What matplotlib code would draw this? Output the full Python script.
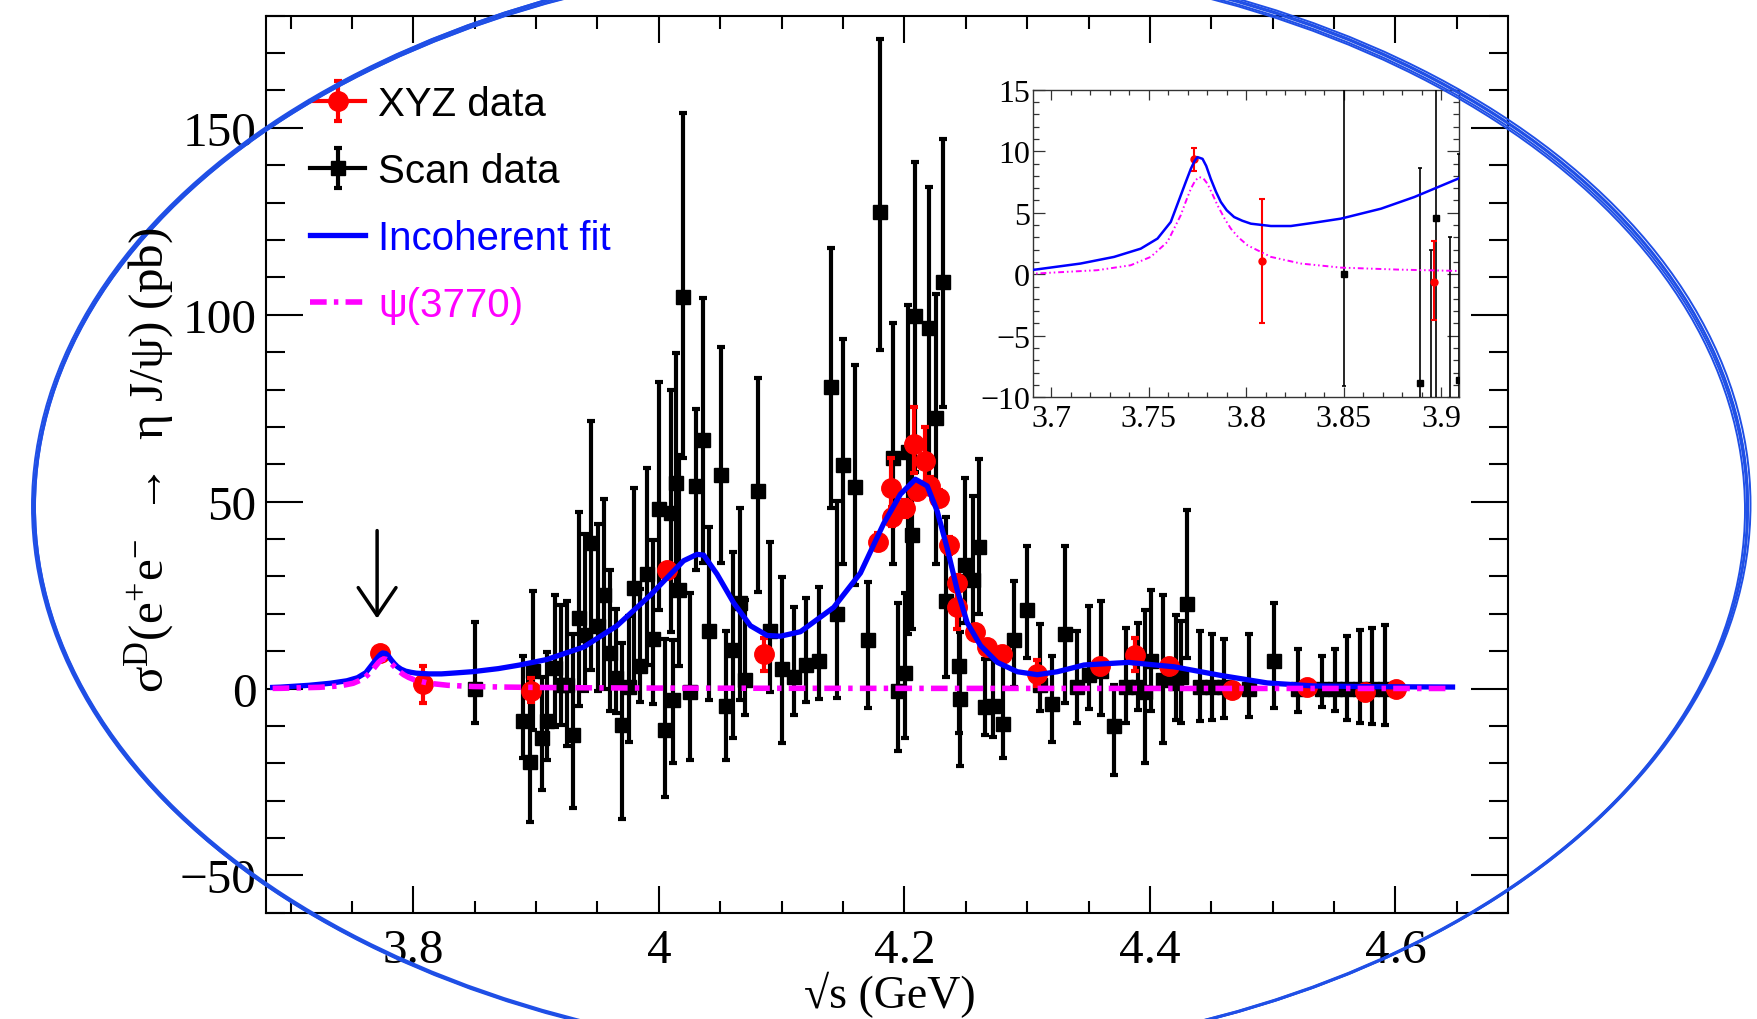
import numpy as np
import matplotlib
matplotlib.use("Agg")
import matplotlib.pyplot as plt
from matplotlib import ticker
from matplotlib.lines import Line2D
from matplotlib.patches import Ellipse

plt.rcParams['font.family'] = ['Liberation Serif', 'DejaVu Serif']
plt.rcParams['mathtext.fontset'] = 'custom'
plt.rcParams['mathtext.rm'] = 'Liberation Serif'
plt.rcParams['mathtext.it'] = 'Liberation Serif:italic'

# ---- XYZ data (red): energy, value, upper and lower end of error bar
xyz_x = [3.7730, 3.8080, 3.8962, 4.0066, 4.0857, 4.1783, 4.1887, 4.1900, 4.2001, 4.2082,
         4.2104, 4.2172, 4.2212, 4.2278, 4.2362, 4.2430, 4.2425, 4.2579, 4.2675, 4.2793,
         4.3083, 4.3590, 4.3878, 4.4159, 4.4667, 4.5278, 4.5754, 4.6003]
xyz_y = [9.4, 1.1, -0.6, 31.6, 9.2, 39.2, 53.6, 46.0, 48.2, 65.5,
         52.9, 61.0, 54.3, 50.9, 38.3, 28.3, 21.8, 15.0, 11.2, 9.2,
         3.9, 6.0, 9.1, 6.1, -0.3, 0.5, -1.0, -0.2]
xyz_hi = [10.3, 6.1, 2.7, 33.5, 13.5, 41.5, 61.8, 48.5, 50.5, 75.4,
          55.0, 70.0, 56.5, 53.0, 40.5, 30.5, 29.0, 17.0, 13.0, 11.0,
          7.6, 8.0, 13.6, 8.0, 1.5, 2.3, 1.0, 1.6]
xyz_lo = [8.4, -4.0, -3.7, 29.7, 4.8, 37.0, 45.5, 43.5, 46.0, 57.7,
          50.8, 53.0, 52.0, 48.8, 36.0, 26.0, 16.0, 13.0, 9.4, 7.4,
          0.7, 4.0, 4.6, 4.2, -2.0, -1.3, -3.0, -2.0]

# ---- Scan data (black)
scan_x = [3.8500, 3.8890, 3.8950, 3.8975, 3.9045, 3.9090, 3.9150, 3.9199, 3.9248, 3.9300,
          3.9352, 3.9401, 3.9450, 3.9502, 3.9550, 3.9602, 3.9652, 3.9699, 3.9754, 3.9800,
          3.9850, 3.9903, 3.9952, 4.0000, 4.0053, 4.0098, 4.0112, 4.0142, 4.0161, 4.0200,
          4.0254, 4.0304, 4.0356, 4.0406, 4.0504, 4.0550, 4.0603, 4.0657, 4.0705, 4.0806,
          4.0903, 4.1004, 4.1104, 4.1202, 4.1302, 4.1402, 4.1452, 4.1502, 4.1601, 4.1704,
          4.1802, 4.1905, 4.1950, 4.2005, 4.2033, 4.2063, 4.2090, 4.2199, 4.2254, 4.2312,
          4.2340, 4.2448, 4.2457, 4.2490, 4.2555, 4.2605, 4.2660, 4.2720, 4.2801, 4.2890,
          4.3002, 4.3108, 4.3204, 4.3305, 4.3409, 4.3506, 4.3603, 4.3707, 4.3802, 4.3900,
          4.3960, 4.4010, 4.4109, 4.4211, 4.4256, 4.4303, 4.4407, 4.4508, 4.4606, 4.4807,
          4.5008, 4.5205, 4.5405, 4.5508, 4.5609, 4.5714, 4.5811, 4.5913]
scan_y = [0.0, -8.8, -19.6, 4.6, -13.2, -8.6, 5.5, 0.9, 0.9, -12.4,
          18.8, 14.2, 39.0, 16.8, 25.0, 9.6, 2.9, -9.8, 0.4, 26.8,
          6.0, 30.6, 13.3, 48.1, -11.0, 47.0, -3.1, 55.0, 26.3, 104.8,
          -1.0, 54.2, 66.5, 15.3, 57.0, -4.6, 10.4, 23.0, 2.3, 52.9,
          15.5, 5.1, 3.0, 6.3, 7.5, 80.6, 20.0, 59.8, 53.8, 13.0,
          127.6, 61.6, -0.7, 4.2, 63.2, 41.2, 99.8, 96.4, 72.3, 108.8,
          23.3, 6.1, -2.9, 33.1, 29.1, 37.8, -5.0, -4.8, -9.4, 12.9,
          20.9, 1.0, -4.1, 14.7, 0.3, 3.7, 4.8, -10.0, 0.3, 0.3,
          -1.0, 7.4, 2.2, 1.5, 3.1, 22.7, 0.3, 0.3, 0.3, 0.0,
          7.4, 0.0, 0.0, 0.0, 0.0, 0.0, 0.0, 0.0]
scan_hi = [17.8, 8.6, 2.0, 26.0, 3.0, 9.8, 25.0, 22.4, 23.4, 14.7,
           47.2, 41.3, 71.7, 43.9, 50.7, 31.8, 21.2, 12.2, 19.5, 53.6,
           26.5, 59.0, 39.8, 81.9, 13.3, 79.9, 13.0, 89.9, 62.5, 153.9,
           25.6, 74.8, 104.6, 43.2, 91.5, 15.3, 36.6, 48.4, 23.6, 83.0,
           39.3, 29.8, 21.8, 24.3, 27.1, 117.8, 50.2, 93.5, 86.6, 28.6,
           173.8, 97.8, 23.0, 25.6, 102.7, 66.0, 140.9, 134.1, 105.5, 147.1,
           45.8, 30.0, 15.0, 56.3, 51.6, 61.5, 7.9, 8.0, 7.2, 28.8,
           38.2, 17.4, 8.6, 38.1, 15.4, 22.0, 23.4, 1.0, 16.1, 17.5,
           21.1, 26.3, 25.0, 19.6, 18.2, 47.9, 15.4, 14.7, 13.2, 14.5,
           23.0, 10.7, 8.6, 10.5, 14.1, 15.6, 16.1, 17.0]
scan_lo = [-9.1, -18.5, -35.7, -11.0, -27.2, -19.0, -10.3, -9.8, -15.5, -32.0,
           -4.7, -0.6, 5.0, -0.6, -0.1, -6.0, -6.6, -35.0, -14.4, -0.1,
           -3.7, 6.2, -4.2, 20.9, -28.9, 15.2, -20.0, 26.0, 5.9, 61.8,
           -19.0, 31.6, 33.7, -3.0, 33.5, -19.0, -13.3, -3.0, -7.1, 25.7,
           -1.0, -14.6, -7.2, -3.5, -2.8, 48.2, -2.5, 33.2, 27.6, -5.1,
           90.7, 33.3, -16.7, -13.2, 14.7, 16.0, 58.0, 56.0, 33.2, 75.4,
           3.0, -12.0, -20.8, 17.5, 16.1, 20.0, -12.5, -13.0, -18.7, 0.4,
           8.1, -6.0, -14.2, -4.0, -9.1, -5.5, -7.0, -23.0, -9.1, -5.7,
           -19.8, -6.0, -14.7, -8.3, -9.3, 8.1, -8.8, -8.5, -7.8, -7.7,
           -5.1, -6.2, -5.0, -6.0, -8.4, -9.2, -9.4, -9.8]

# ---- Incoherent fit (blue)
fit_x = [3.6854, 3.6919, 3.7150, 3.7322, 3.7459, 3.7545, 3.7613, 3.7664, 3.7690, 3.7716,
         3.7735, 3.7750, 3.7776, 3.7795, 3.7818, 3.7845, 3.7870, 3.7900, 3.7938, 3.7980,
         3.8024, 3.8127, 3.8229, 3.8349, 3.8486, 3.8692, 3.8863, 3.9086, 3.9387, 3.9659,
         3.9931, 4.0066, 4.0202, 4.0311, 4.0365, 4.0474, 4.0610, 4.0746, 4.0882, 4.0990,
         4.1153, 4.1424, 4.1642, 4.1832, 4.1968, 4.2090, 4.2186, 4.2267, 4.2349, 4.2430,
         4.2512, 4.2620, 4.2757, 4.2920, 4.3083, 4.3246, 4.3463, 4.3824, 4.4201, 4.4579,
         4.4956, 4.5333, 4.5805, 4.6465]
fit_y = [0.30, 0.38, 0.87, 1.41, 2.08, 2.90, 4.25, 6.40, 7.50, 8.57,
         9.20, 9.52, 9.38, 8.80, 7.76, 6.70, 5.87, 5.20, 4.65, 4.35,
         4.11, 3.92, 3.92, 4.19, 4.52, 5.33, 6.28, 7.76, 11.1, 16.8,
         25.0, 29.6, 34.2, 35.9, 35.7, 30.6, 22.9, 16.8, 14.2, 14.0,
         15.2, 21.7, 30.9, 44.2, 52.0, 56.0, 54.2, 47.5, 37.5, 26.4,
         17.6, 11.5, 7.0, 4.5, 3.7, 4.5, 6.3, 7.0, 5.8, 3.5,
         1.5, 0.7, 0.5, 0.4]

# ---- psi(3770) component (magenta)
psi_x = [3.6854, 3.6919, 3.7236, 3.7407, 3.7510, 3.7596, 3.7664, 3.7690, 3.7716, 3.7738,
         3.7758, 3.7780, 3.7801, 3.7827, 3.7853, 3.7890, 3.7921, 3.7960, 3.8007, 3.8127,
         3.8281, 3.8486, 3.8778, 3.9086, 3.9500, 4.0000, 4.1000, 4.2500, 4.4000, 4.6465]
psi_y = [0.05, 0.06, 0.33, 0.73, 1.41, 2.63, 4.79, 5.90, 6.95, 7.60,
         7.90, 7.80, 7.36, 6.50, 5.60, 4.50, 3.71, 3.00, 2.35, 1.41,
         0.87, 0.54, 0.38, 0.27, 0.18, 0.12, 0.07, 0.04, 0.03, 0.02]

legend_labels = ['XYZ data', 'Scan data', 'Incoherent fit', '\u03c8(3770)']
legend_colors = ['black', 'black', 'blue', '#ff00ff']


def yerr(y, hi, lo):
    y = np.array(y)
    return [y - np.array(lo), np.array(hi) - y]


def fmt_g(v, pos):
    return f'{v:g}'.replace('-', '\u2212')


DASHDOT = (0, (3.0, 1.3, 0.8, 1.3))

fig = plt.figure(figsize=(17.57, 10.2), dpi=100)
ax = fig.add_axes([0.1514, 0.1041, 0.7071, 0.8795])

scan = ax.errorbar(scan_x, scan_y, yerr=yerr(scan_y, scan_hi, scan_lo), fmt='s', ms=10.5,
                   color='black', ecolor='black', elinewidth=3, capsize=3.2, capthick=3, zorder=3)
xyz = ax.errorbar(xyz_x, xyz_y, yerr=yerr(xyz_y, xyz_hi, xyz_lo), fmt='o', ms=14,
                  color='red', ecolor='red', elinewidth=3, capsize=3.2, capthick=3, zorder=4)
fit_line, = ax.plot(fit_x, fit_y, color='blue', lw=3.8, zorder=5)
psi_line, = ax.plot(psi_x, psi_y, color='#ff00ff', lw=4, linestyle=DASHDOT, zorder=6)

ax.set_xlim(3.68, 4.692)
ax.set_ylim(-60, 180)
ax.xaxis.set_major_locator(ticker.MultipleLocator(0.2))
ax.xaxis.set_minor_locator(ticker.MultipleLocator(0.05))
ax.xaxis.set_major_formatter(ticker.FuncFormatter(fmt_g))
ax.yaxis.set_major_locator(ticker.MultipleLocator(50))
ax.yaxis.set_minor_locator(ticker.MultipleLocator(10))
ax.yaxis.set_major_formatter(ticker.FuncFormatter(fmt_g))
ax.tick_params(which='both', direction='in', top=True, right=True, width=1.5, labelsize=35.5)
ax.tick_params(axis='x', which='major', length=19.5, pad=11)
ax.tick_params(axis='x', which='minor', length=9)
ax.tick_params(axis='y', which='major', length=26.5, pad=7)
ax.tick_params(axis='y', which='minor', length=14)
for s in ax.spines.values():
    s.set_linewidth(1.5)

# hand-drawn style arrow over the psi(3770) peak
ax.annotate('', xy=(3.7705, 18), xytext=(3.7705, 43),
            arrowprops=dict(arrowstyle='->,head_length=0.5,head_width=0.34',
                            mutation_scale=40, lw=2.5, color='black'), zorder=7)

h_xyz = (Line2D([], [], color='red', lw=3), xyz)
h_scan = (Line2D([], [], color='black', lw=3), scan)
leg = ax.legend([h_xyz, h_scan, fit_line, psi_line], legend_labels,
                loc='center left', bbox_to_anchor=(0.0354, 0.7896), frameon=False,
                prop={'family': 'Liberation Sans', 'size': 29}, handlelength=1.37,
                handletextpad=0.32, labelspacing=0.72, borderpad=0, borderaxespad=0)
for t, c in zip(leg.get_texts(), legend_colors):
    t.set_color(c)

fig.text(0.0854, 0.549,
         '\u03c3$^{\\rm D}$(e$^{+}$e$^{-}$  \u2192  \u03b7 J/\u03c8) (pb)',
         rotation=90, ha='center', va='center', fontsize=35.5)
fig.text(0.5065, 1 - 1008 / 1020, '\u221as (GeV)', ha='center', va='baseline', fontsize=33)

# ---- inset
axi = fig.add_axes([0.5878, 0.6095, 0.2424, 0.3016])
axi.errorbar(scan_x, scan_y, yerr=yerr(scan_y, scan_hi, scan_lo), fmt='s', ms=5,
             color='black', ecolor='black', elinewidth=1.2, capsize=1.5, capthick=1.2, zorder=3)
axi.errorbar(xyz_x, xyz_y, yerr=yerr(xyz_y, xyz_hi, xyz_lo), fmt='o', ms=5,
             color='red', ecolor='red', elinewidth=1.5, capsize=2, capthick=1.5, zorder=4)
axi.plot(fit_x, fit_y, color='blue', lw=1.8, zorder=5)
axi.plot(psi_x, psi_y, color='#ff00ff', lw=1.4, linestyle=(0, (3, 1.5, 0.8, 1.5, 0.8, 1.5)), zorder=6)
axi.set_xlim(3.6905, 3.909)
axi.set_ylim(-10, 15)
axi.xaxis.set_major_locator(ticker.MultipleLocator(0.05))
axi.xaxis.set_minor_locator(ticker.MultipleLocator(0.01))
axi.xaxis.set_major_formatter(ticker.FuncFormatter(fmt_g))
axi.yaxis.set_major_locator(ticker.MultipleLocator(5))
axi.yaxis.set_minor_locator(ticker.MultipleLocator(1))
axi.yaxis.set_major_formatter(ticker.FuncFormatter(fmt_g))
axi.tick_params(which='both', direction='in', top=True, right=True, width=0.9,
                labelsize=23, color='#333333')
axi.tick_params(axis='x', which='major', length=7, pad=5)
axi.tick_params(axis='x', which='minor', length=3.6)
axi.tick_params(axis='y', which='major', length=8.4, pad=2)
axi.tick_params(axis='y', which='minor', length=4.3)
for s in axi.spines.values():
    s.set_linewidth(1.0)
    s.set_color('#333333')

# ---- hand-drawn blue ellipse round the whole figure (pixel coordinates)
ELLIPSE_STROKES = [(891, 508, 1714, 1104, 0.0), (890, 509, 1710, 1100, 0.2),
                   (892, 507, 1717, 1107, -0.15), (891, 509, 1712, 1102, 0.1),
                   (890, 507, 1716, 1105, -0.05)]
ov = fig.add_axes([0, 0, 1, 1])
ov.set_xlim(0, 1757)
ov.set_ylim(1020, 0)
ov.axis('off')
ov.patch.set_alpha(0)
for cx, cy, w, h, ang in ELLIPSE_STROKES:
    ov.add_patch(Ellipse((cx, cy), w, h, angle=ang, fill=False, ec='#1f4fe6', lw=1.4))

fig.savefig('out.png', dpi=100)
